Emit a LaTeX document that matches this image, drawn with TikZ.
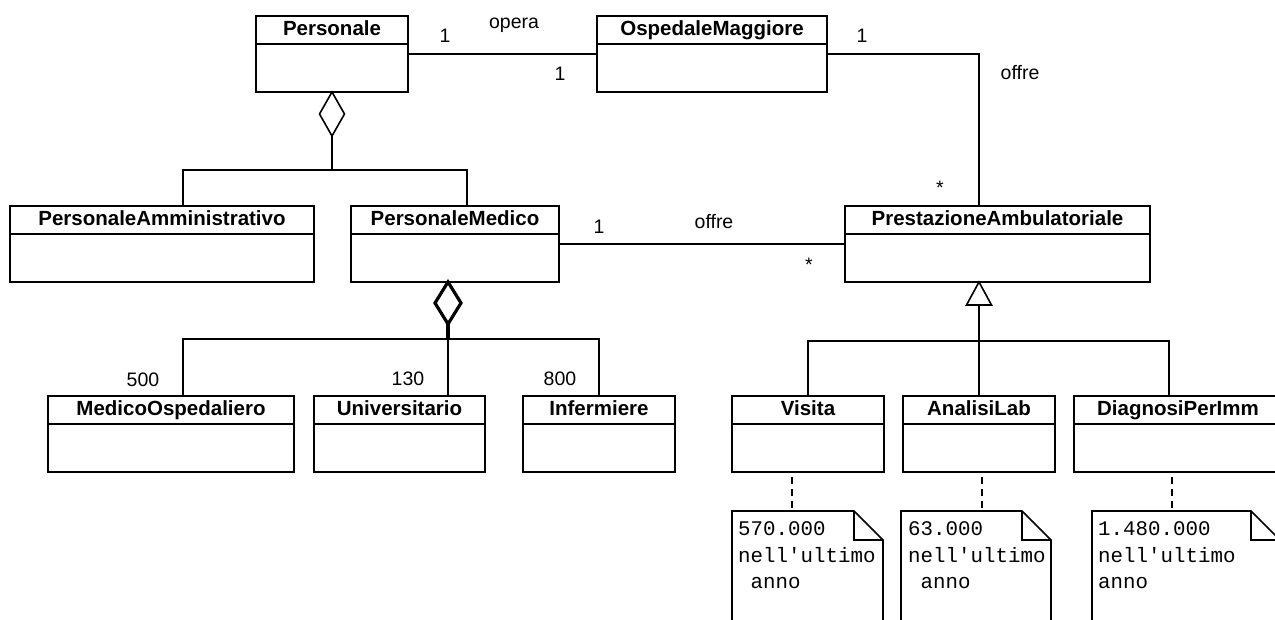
\documentclass[tikz,border=0pt]{standalone}
\usepackage{fontspec}
\setmainfont{Liberation Sans}
\setmonofont{Liberation Mono}
\usetikzlibrary{calc,shapes.geometric}
\tikzset{
  cls/.style={draw, line width=1.8pt, rectangle, inner sep=0pt, outer sep=0pt, minimum height=76pt, anchor=north west},
  cname/.style={anchor=base, inner sep=0pt, font=\bfseries\fontsize{20.5}{24}\selectfont},
  lbl/.style={anchor=base, inner sep=0pt, font=\fontsize{19.5}{23}\selectfont},
  conn/.style={line width=1.6pt},
  notebox/.style={rectangle, inner sep=0pt, outer sep=0pt, minimum height=150pt, anchor=north west},
  notetxt/.style={anchor=base west, inner sep=0pt, font=\ttfamily\fontsize{20.8}{26}\selectfont},
  dsh/.style={line width=1.6pt, dash pattern=on 7pt off 5pt},
  aggr/.style={diamond, draw, fill=white, inner sep=0pt, outer sep=0pt, anchor=north},
}
\newcommand\umlcls[5]{%
  \node[cls, minimum width=#4pt] (#1) at (#2,#3) {};
  \draw[line width=1.8pt] ($(#1.north west)+(0,28)$) -- ($(#1.north east)+(0,28)$);
  \node[cname] (#1-n) at ($(#1.north)+(0,19.5)$) {#5};
}
\newcommand\notedraw[1]{%
  \draw[line width=1.6pt] (#1.south west) -- (#1.north west) -- ($(#1.north east)+(-29,0)$) -- ($(#1.north east)+(0,29)$) -- (#1.south east);
  \draw[line width=1.6pt] ($(#1.north east)+(-29,0)$) -- ($(#1.north east)+(-29,29)$) -- ($(#1.north east)+(0,29)$);
}
\begin{document}
\begin{tikzpicture}[x=1pt, y=-1pt]
\useasboundingbox (0,0) rectangle (1275,619);
\clip (0,0) rectangle (1275,619);
\fill[white] (0,0) rectangle (1275,619);

% classes
\umlcls{pers}{256}{16}{152}{Personale}
\umlcls{osp}{597}{16}{230}{OspedaleMaggiore}
\umlcls{pa}{10}{206}{304}{PersonaleAmministrativo}
\umlcls{pm}{351}{206}{208}{PersonaleMedico}
\umlcls{presta}{845}{206}{305}{PrestazioneAmbulatoriale}
\umlcls{mo}{48}{396}{246}{MedicoOspedaliero}
\umlcls{univ}{314}{396}{171}{Universitario}
\umlcls{inf}{523}{396}{152}{Infermiere}
\umlcls{visita}{732}{396}{152}{Visita}
\umlcls{lab}{903}{396}{152}{AnalisiLab}
\umlcls{diag}{1074}{396}{208}{DiagnosiPerImm}

% associations
\draw[conn] (pers.east) -- (osp.west);
\coordinate (apex) at ($(presta.south)+(-18.5,0)$);
\draw[conn] (osp.east) -| (apex |- presta.north);
\draw[conn] (pm.east) -- (presta.west);

% aggregation Personale
\node[aggr, line width=1.6pt, minimum width=25pt, minimum height=44pt] (agg1) at (pers.south) {};
\coordinate (j1) at ($(agg1.south)+(0,34)$);
\draw[conn] (agg1.south) -- (j1);
\draw[conn] ($(pa.north)+(21,0)$) |- (j1) -| ($(pm.north)+(12,0)$);

% aggregation PersonaleMedico
\node[aggr, line width=3.2pt, minimum width=26pt, minimum height=42pt] (agg2) at ($(pm.south)+(-7,0)$) {};
\coordinate (j2) at ($(agg2.south)+(0,15)$);
\draw[line width=3.2pt] (agg2.south) -- (j2);
\draw[conn] ($(mo.north)+(12,0)$) |- (j2) -| (inf.north);
\draw[conn] (j2) -- (j2 |- univ.north);

% generalization
\coordinate (gbase) at ($(apex)+(0,23)$);
\draw[conn, fill=white] (apex) -- ($(apex)+(12.5,23)$) -- ($(apex)+(-12.5,23)$) -- cycle;
\coordinate (j3) at ($(apex)+(0,59)$);
\draw[conn] (gbase) -- (j3);
\draw[conn] (visita.north) |- (j3) -| ($(diag.north)+(-9,0)$);
\draw[conn] (j3) -- (lab.north);

% labels
\node[lbl] (l1) at (445,42) {1};
\node[lbl] (l2) at (514,28) {opera};
\node[lbl] (l3) at (560,80) {1};
\node[lbl] (l4) at (862,42) {1};
\node[lbl] (l5) at (1020,79) {offre};
\node[lbl] (l6) at (940,194) {*};
\node[lbl] (l7) at (599,233) {1};
\node[lbl] (l8) at (714,228) {offre};
\node[lbl] (l9) at (809,271) {*};
\node[lbl] (l10) at (143,386) {500};
\node[lbl] (l11) at (408,385) {130};
\node[lbl] (l12) at (560,385) {800};

% notes
\node[notebox, minimum width=151pt] (n1) at (732,511) {};
\node[notebox, minimum width=150pt] (n2) at (901,511) {};
\node[notebox, minimum width=188pt] (n3) at (1092,511) {};
\notedraw{n1}
\notedraw{n2}
\notedraw{n3}

\coordinate (d1) at ($(visita.south)+(-16,5)$);
\coordinate (d2) at ($(lab.south)+(3,5)$);
\coordinate (d3) at ($(diag.south)+(-6,5)$);
\draw[dsh] (d1) -- (d1 |- n1.north);
\draw[dsh] (d2) -- (d2 |- n2.north);
\draw[dsh] (d3) -- (d3 |- n3.north);

\node[notetxt] (t1a) at ($(n1.north west)+(6,24)$) {570.000};
\node[notetxt] (t1b) at ($(n1.north west)+(6,51)$) {nell'ultimo};
\node[notetxt] (t1c) at ($(n1.north west)+(18.5,77)$) {anno};
\node[notetxt] (t2a) at ($(n2.north west)+(7,24)$) {63.000};
\node[notetxt] (t2b) at ($(n2.north west)+(7,51)$) {nell'ultimo};
\node[notetxt] (t2c) at ($(n2.north west)+(19.5,77)$) {anno};
\node[notetxt] (t3a) at ($(n3.north west)+(6,24)$) {1.480.000};
\node[notetxt] (t3b) at ($(n3.north west)+(6,51)$) {nell'ultimo};
\node[notetxt] (t3c) at ($(n3.north west)+(6,77)$) {anno};
\end{tikzpicture}
\end{document}
